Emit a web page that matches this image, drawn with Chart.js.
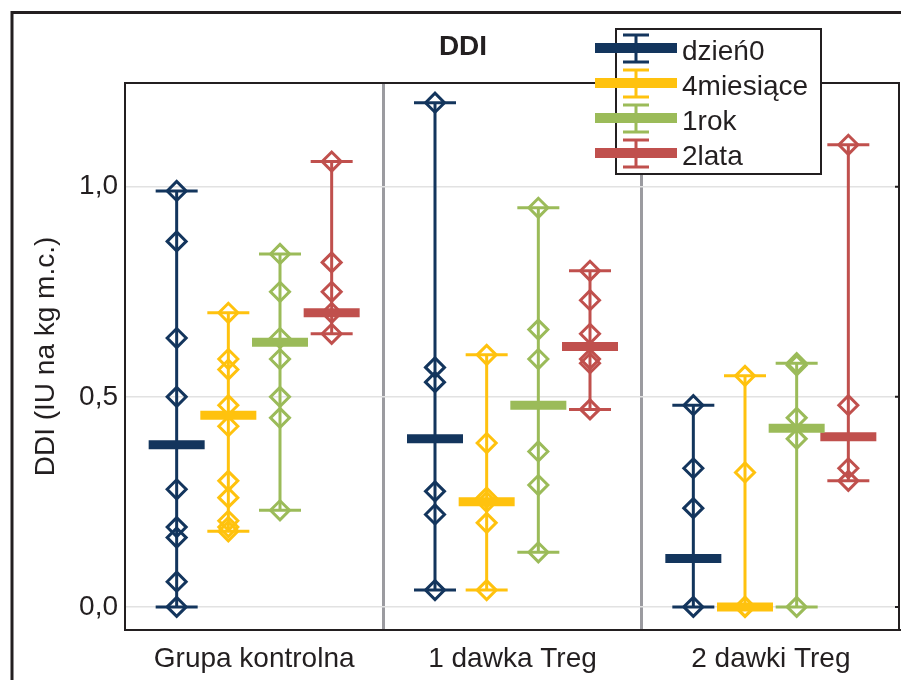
<!DOCTYPE html>
<html>
<head>
<meta charset="utf-8">
<script src="https://cdn.jsdelivr.net/npm/chart.js@4.4.0/dist/chart.umd.min.js"></script>
<style>
html, body { margin: 0; padding: 0; background: #fff; }
</style>
</head>
<body>
<canvas id="ddiChart" width="901" height="680"></canvas>
<script>
// groups on the x axis and series
const groups = ['Grupa kontrolna', '1 dawka Treg', '2 dawki Treg'];
const seriesNames = ['dzień0', '4miesiące', '1rok', '2lata'];
const seriesColors = ['#13355D', '#FFC20E', '#9BBB59', '#C0504D'];
const yTicks = [0, 0.5, 1.0];

// individual values (one list per group)
const dzien0 = [
	[0.99, 0.87, 0.64, 0.50, 0.28, 0.19, 0.165, 0.06, 0.0],
	[1.20, 0.57, 0.535, 0.275, 0.22, 0.04],
	[0.48, 0.33, 0.235, 0.0]
];
const miesiace4 = [
	[0.70, 0.59, 0.565, 0.48, 0.43, 0.30, 0.26, 0.205, 0.19, 0.18],
	[0.60, 0.39, 0.26, 0.25, 0.20, 0.04],
	[0.55, 0.32, 0.0, 0.0]
];
const rok1 = [
	[0.84, 0.75, 0.64, 0.59, 0.50, 0.45, 0.23],
	[0.95, 0.66, 0.59, 0.37, 0.29, 0.13],
	[0.58, 0.575, 0.45, 0.40, 0.0]
];
const lata2 = [
	[1.06, 0.82, 0.75, 0.70, 0.65],
	[0.80, 0.73, 0.65, 0.59, 0.58, 0.47],
	[1.10, 0.48, 0.33, 0.30]
];

// medians
const dzien0Median = [0.386, 0.40, 0.115];
const miesiace4Median = [0.456, 0.25, 0.0];
const rok1Median = [0.63, 0.48, 0.425];
const lata2Median = [0.70, 0.62, 0.405];

const allValues = [dzien0, miesiace4, rok1, lata2];
const allMedians = [dzien0Median, miesiace4Median, rok1Median, lata2Median];

const FONT = '"Liberation Sans", Arial, sans-serif';
const TEXT = '#231f20';

function xPos(g, s) {
	return g * 5 + s + 1;
}

const datasets = [];
seriesNames.forEach(function(name, s) {
	const col = seriesColors[s];
	const rangePts = [], capPts = [], dotPts = [], medPts = [];
	groups.forEach(function(g, gi) {
		const vals = allValues[s][gi];
		const x = xPos(gi, s);
		const lo = Math.min.apply(null, vals);
		const hi = Math.max.apply(null, vals);
		rangePts.push({x: x, y: lo}, {x: x, y: hi}, {x: x, y: null});
		capPts.push({x: x, y: lo}, {x: x, y: hi});
		vals.forEach(function(v) { dotPts.push({x: x, y: v}); });
		medPts.push({x: x, y: allMedians[s][gi]});
	});
	// min-max line
	datasets.push({
		label: name, data: rangePts, showLine: true, borderColor: col, borderWidth: 3,
		pointRadius: 0, order: 4
	});
	// single values
	datasets.push({
		data: dotPts, pointStyle: 'rectRot', pointRadius: 9.5, borderWidth: 3,
		borderColor: col, backgroundColor: 'rgba(0,0,0,0)', order: 3
	});
	// caps
	datasets.push({
		data: capPts, pointStyle: 'line', pointRadius: 21, borderWidth: 3,
		borderColor: col, backgroundColor: col, order: 2
	});
	// median
	datasets.push({
		data: medPts, pointStyle: 'line', pointRadius: 28, borderWidth: 9,
		borderColor: col, backgroundColor: col, order: 1
	});
});

const framePlugin = {
	id: 'frame',
	beforeDraw: function(chart) {
		const ctx = chart.ctx;
		ctx.save();
		ctx.fillStyle = '#fff';
		ctx.fillRect(0, 0, chart.width, chart.height);
		ctx.restore();
	},
	afterDraw: function(chart) {
		const ctx = chart.ctx;
		const a = chart.chartArea;
		ctx.save();
		//top and right border of the plot
		ctx.strokeStyle = TEXT;
		ctx.lineWidth = 2;
		ctx.beginPath();
		ctx.moveTo(a.left, a.top);
		ctx.lineTo(a.right - 1, a.top);
		ctx.lineTo(a.right - 1, a.bottom);
		yTicks.forEach(function(v) {
			const y = chart.scales.y.getPixelForValue(v);
			ctx.moveTo(a.right - 5, y);
			ctx.lineTo(a.right, y);
		});
		ctx.stroke();

		//outer frame
		ctx.lineWidth = 3;
		ctx.beginPath();
		ctx.moveTo(12, chart.height);
		ctx.lineTo(12, 12.5);
		ctx.lineTo(chart.width, 12.5);
		ctx.stroke();

		//title
		ctx.fillStyle = TEXT;
		ctx.font = 'bold 28px ' + FONT;
		ctx.textAlign = 'center';
		ctx.textBaseline = 'alphabetic';
		ctx.fillText('DDI', 463, 55);

		//legend
		ctx.fillStyle = '#fff';
		ctx.fillRect(616, 29, 205, 145);
		ctx.lineWidth = 2;
		ctx.strokeStyle = TEXT;
		ctx.strokeRect(616, 29, 205, 145);
		seriesNames.forEach(function(name, i) {
			const y = 48 + i * 35;
			const col = seriesColors[i];
			ctx.fillStyle = col;
			ctx.fillRect(595, y - 5, 82, 10);
			ctx.strokeStyle = col;
			ctx.lineWidth = 3;
			ctx.beginPath();
			ctx.moveTo(636, y - 13);
			ctx.lineTo(636, y + 14);
			ctx.moveTo(623, y - 13);
			ctx.lineTo(649, y - 13);
			ctx.moveTo(623, y + 14);
			ctx.lineTo(649, y + 14);
			ctx.stroke();
			ctx.fillStyle = TEXT;
			ctx.font = '28px ' + FONT;
			ctx.textAlign = 'left';
			ctx.fillText(name, 682, y + 12);
		});
		ctx.restore();
	}
};

const groupCenters = groups.map(function(g, i) { return i * 5 + 2.5; });

const chart = new Chart(document.getElementById('ddiChart'), {
	type: 'scatter',
	data: { datasets: datasets },
	plugins: [framePlugin],
	options: {
		responsive: false,
		animation: false,
		devicePixelRatio: 1,
		layout: { autoPadding: false, padding: { top: 83, right: 1, left: 0, bottom: 0 } },
		plugins: {
			legend: { display: false },
			tooltip: { enabled: false },
			title: { display: false }
		},
		scales: {
			x: {
				type: 'linear',
				min: 0,
				max: 15,
				afterBuildTicks: function(scale) {
					const vals = [0, 5, 10, 15].concat(groupCenters).sort(function(a, b) { return a - b; });
					scale.ticks = vals.map(function(v) { return {value: v}; });
				},
				afterFit: function(scale) {
					scale.height = 50;
					scale.paddingLeft = 0;
					scale.paddingRight = 0;
				},
				ticks: {
					autoSkip: false,
					maxRotation: 0,
					padding: 12,
					color: TEXT,
					font: { family: FONT, size: 28 },
					callback: function(value) {
						const i = groupCenters.indexOf(value);
						return i >= 0 ? groups[i] : '';
					}
				},
				grid: {
					drawTicks: false,
					color: function(c) {
						const v = c.tick ? c.tick.value : null;
						return (v === 5 || v === 10) ? '#9b9ba0' : 'rgba(0,0,0,0)';
					},
					lineWidth: 3
				},
				border: { display: true, color: TEXT, width: 2 }
			},
			y: {
				type: 'linear',
				min: -0.055,
				max: 1.247,
				afterBuildTicks: function(scale) {
					scale.ticks = yTicks.map(function(v) { return {value: v}; });
				},
				afterFit: function(scale) { scale.width = 125; },
				ticks: {
					padding: 7,
					color: TEXT,
					font: { family: FONT, size: 28 },
					callback: function(value) { return value.toFixed(1).replace('.', ','); }
				},
				grid: { drawTicks: false, color: '#e2e2e2', lineWidth: 1.5 },
				border: { display: true, color: TEXT, width: 2 },
				title: {
					display: true,
					text: 'DDI (IU na kg m.c.)',
					color: TEXT,
					font: { family: FONT, size: 28 },
					padding: { top: 29, bottom: 0 }
				}
			}
		}
	}
});
</script>
</body>
</html>
